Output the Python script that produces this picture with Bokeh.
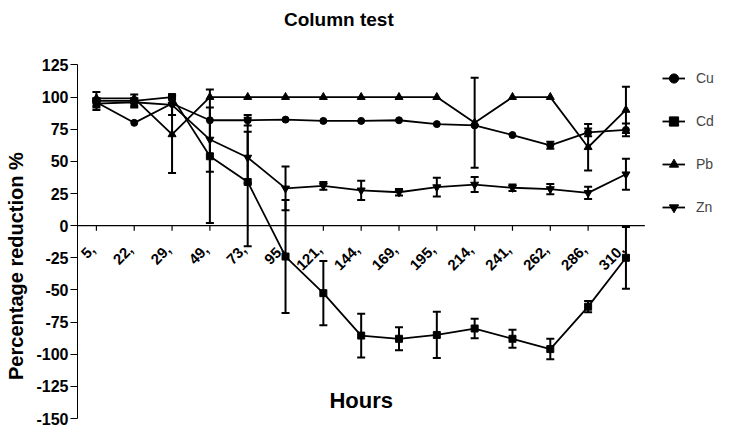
import math
from bokeh.plotting import figure
from bokeh.models import (FactorRange, Range1d, FixedTicker, Whisker, TeeHead,
                          ColumnDataSource, Legend, LegendItem, Label)
from bokeh.transform import dodge
from bokeh.core.properties import value
from bokeh.embed import file_html
from bokeh.resources import INLINE

hours = ["5,", "22,", "29,", "49,", "73,", "95,", "121,", "144,", "169,", "195,",
         "214,", "241,", "262,", "286,", "310,"]

cu = [96, 80, 95, 82, 82, 82.5, 81.5, 81.5, 82, 79, 78, 70.5, 62.5, 72.5, 74.5]
cu_err = [3, 0, 0, 0, 4, 0, 0, 0, 0, 0, 0, 0, 2.7, 3, 5]
cd = [97, 97, 100, 54, 34, -24, -52.5, -85.5, -88, -85, -80, -88, -96, -63, -25]
cd_err = [7, 5, 0, 52, 50, 44, 25, 17, 9, 18, 7.6, 7, 8, 4.4, 24]
pb = [99, 99, 71, 100, 100, 100, 100, 100, 100, 100, 80, 100, 100, 61, 90]
pb_err = [0, 0, 30, 0, 0, 0, 0, 0, 0, 0, 35, 0, 0, 18, 18]
zn = [95, 96, 94, 67, 53, 29, 31, 27.5, 26, 30, 32, 29.5, 28.5, 25.5, 40]
zn_err = [3, 3, 8, 25, 20, 17, 3, 7.5, 2.5, 7.3, 5.8, 2.5, 4, 4.7, 12]

y_ticks = [125, 100, 75, 50, 25, 0, -25, -50, -75, -100, -125, -150]

FONT = "Liberation Sans"

# two blank slots on the right of the category range hold the legend
x_factors = hours + [" ", "  "]

p = figure(width=720, height=430, output_backend="svg", toolbar_location=None,
           title=None,
           x_range=FactorRange(*x_factors), y_range=Range1d(-150, 173.6),
           x_axis_location=None, min_border_left=77, min_border_right=0,
           min_border_top=2, min_border_bottom=12)
p.outline_line_color = None
p.grid.visible = False
p.background_fill_color = "white"

ya = p.yaxis[0]
ya.bounds = (-150, 125)
ya.ticker = FixedTicker(ticks=y_ticks)
ya.major_label_overrides = {t: str(t) for t in y_ticks}
ya.minor_tick_line_color = None
ya.major_tick_out = 7
ya.major_tick_in = 0
ya.major_label_standoff = 2
ya.major_label_text_font = FONT
ya.major_label_text_font_size = "16px"
ya.major_label_text_font_style = "bold"
ya.major_label_text_color = "black"
ya.axis_line_color = "black"
ya.major_tick_line_color = "black"
# trailing no-break spaces move the centred label down to sit beside the axis bounds
ya.axis_label = "Percentage reduction %" + "\u00a0" * 20
ya.axis_label_text_font = FONT
ya.axis_label_text_font_size = "20px"
ya.axis_label_text_font_style = "bold"
ya.axis_label_text_color = "black"
ya.axis_label_standoff = 6

# x axis drawn at y = 0 across the category slots only
p.segment(x0=[0], y0=[0], x1=[len(hours)], y1=[0], line_color="black", line_width=1.2)
p.segment(x0=hours, y0=[0] * len(hours), x1=hours, y1=[-4] * len(hours),
          line_color="black", line_width=1.2)
lab_src = ColumnDataSource(dict(x=hours, y=[-16.7] * len(hours), t=hours))
p.text(x=dodge("x", -0.1, range=p.x_range), y="y", text="t", source=lab_src,
       angle=math.pi / 4, text_align="right", text_baseline="middle",
       text_font=value(FONT), text_font_size="15px", text_font_style="bold",
       text_color="black")

items = []
series = [("Cu", cu, cu_err, "circle", 7), ("Cd", cd, cd_err, "square", 7),
          ("Pb", pb, pb_err, "triangle", 8), ("Zn", zn, zn_err, "inverted_triangle", 8)]
for name, vals, errs, marker, size in series:
    xs = [h for h, e in zip(hours, errs) if e > 0]
    lo = [v - e for v, e in zip(vals, errs) if e > 0]
    hi = [v + e for v, e in zip(vals, errs) if e > 0]
    src = ColumnDataSource(dict(x=xs, lower=lo, upper=hi))
    w = Whisker(base="x", lower="lower", upper="upper", source=src,
                line_color="black", line_width=2,
                upper_head=TeeHead(size=8, line_width=2, line_color="black"),
                lower_head=TeeHead(size=8, line_width=2, line_color="black"))
    p.add_layout(w)
    ln = p.line(hours, vals, line_color="black", line_width=1.8)
    sc = p.scatter(hours, vals, marker=marker, size=size, fill_color="black",
                   line_color="black")
    items.append(LegendItem(label=name, renderers=[ln, sc]))

legend = Legend(items=items, location=(585, 196), margin=0, padding=0,
                spacing=13, glyph_width=23, glyph_height=30, label_height=30,
                label_width=0, label_standoff=11, label_text_font=FONT,
                label_text_font_size="14px", border_line_color=None,
                background_fill_alpha=0)
p.add_layout(legend)

# chart title and x-axis title
p.add_layout(Label(x=6.91, y=160.4, text="Column test", text_align="center",
                   text_baseline="alphabetic", text_font=FONT, text_font_size="19px",
                   text_font_style="bold", text_color="black"))
p.add_layout(Label(x=7.5, y=-136, text="Hours", text_align="center",
                   text_baseline="middle", text_font=FONT, text_font_size="22px",
                   text_font_style="bold", text_color="black"))

open("out.html", "w").write(file_html(p, INLINE))
